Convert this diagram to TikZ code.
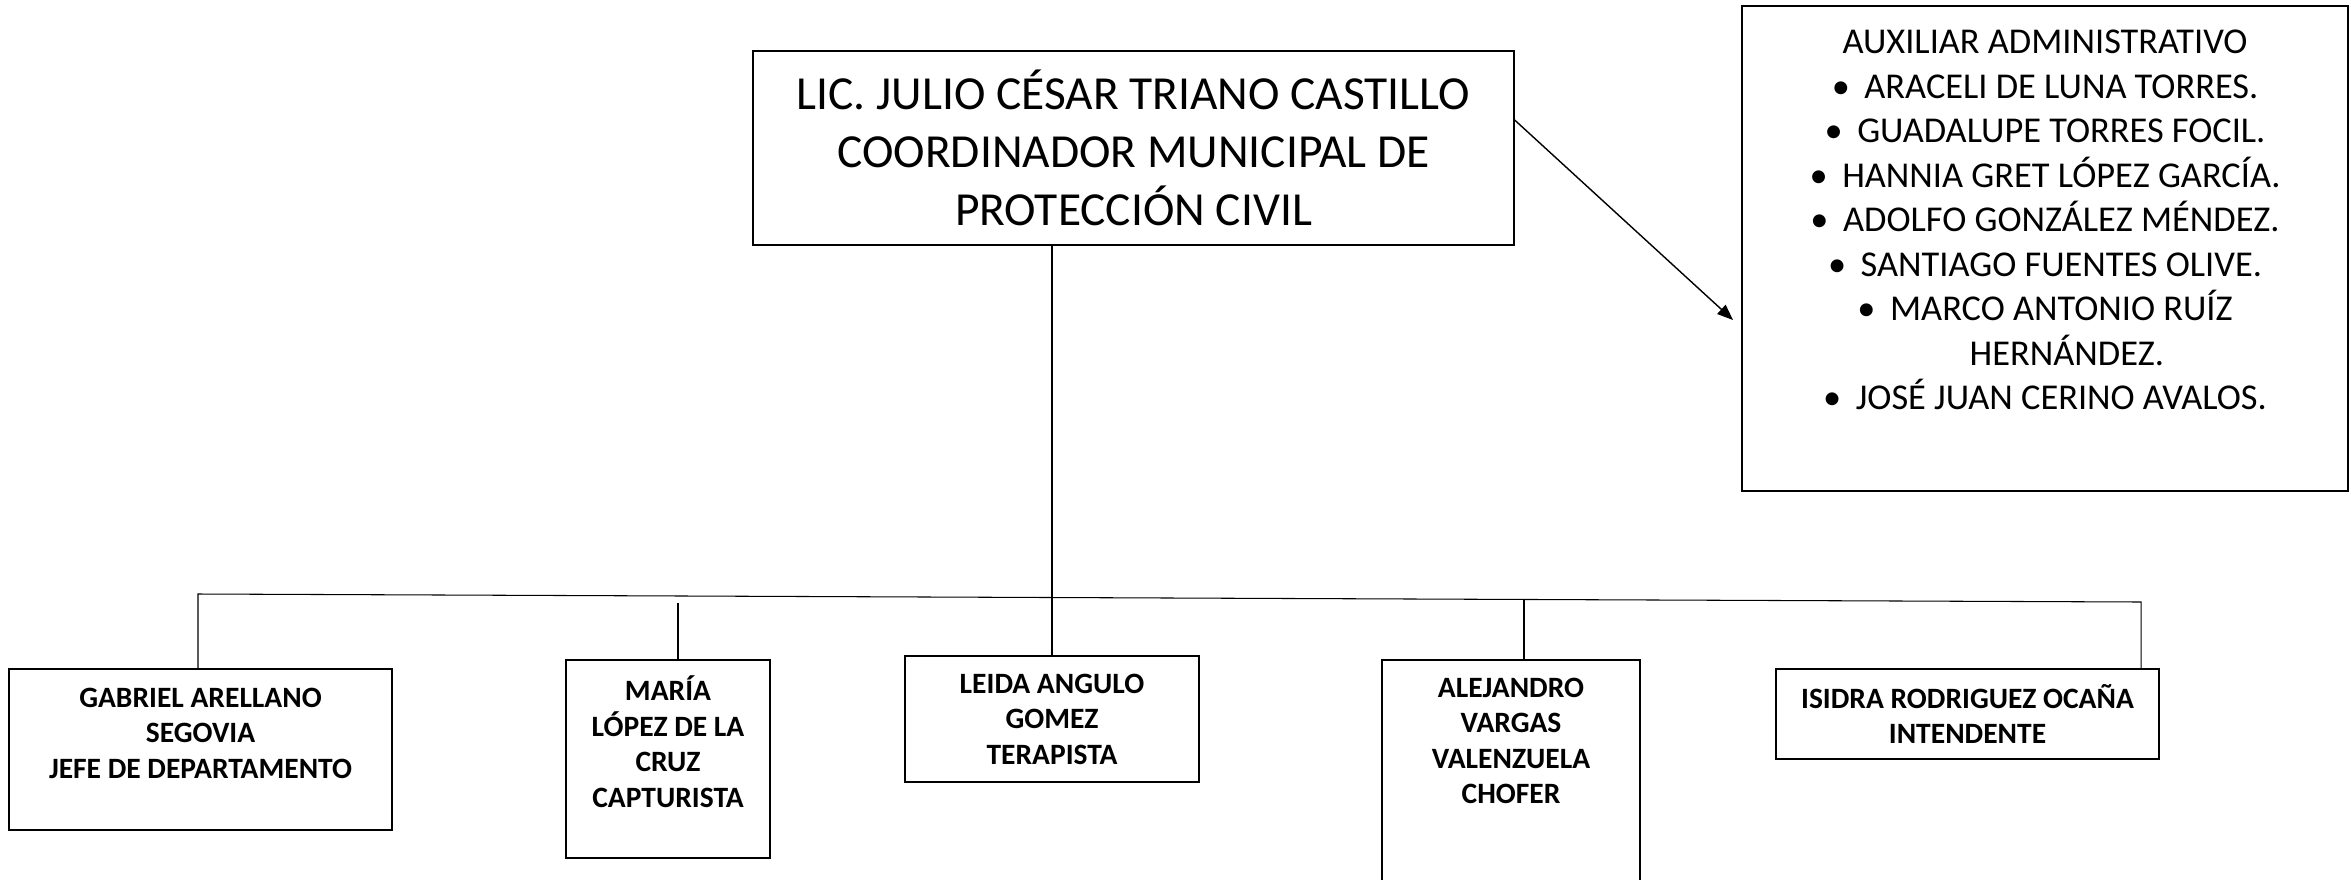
\documentclass[tikz,border=0pt]{standalone}
\usepackage{fontspec}
\setmainfont{Carlito}
\usetikzlibrary{arrows.meta}

\tikzset{
  box/.style={draw, line width=0.8pt, inner sep=0pt},
  boss/.style={align=center, font=\fontsize{27}{33}\selectfont},
  staff/.style={align=center, font=\fontsize{20.7}{25.3}\selectfont},
  puesto/.style={align=center, font=\bfseries\fontsize{16.8}{20.2}\selectfont},
  link/.style={line width=0.6pt},
  arr/.style={line width=0.8pt, -{Triangle[length=9pt,width=7pt]}},
}
\newcommand{\bul}{\textbullet\hspace{0.4em}}

\begin{document}
\begin{tikzpicture}[x=0.02cm, y=-0.02cm]
\useasboundingbox (0,0) rectangle (2351,879);

% coordinador
\node[box, boss, minimum width=15.22cm, minimum height=3.88cm] (main) at (1133.5,148)
  {LIC. JULIO CÉSAR TRIANO CASTILLO\\COORDINADOR MUNICIPAL DE\\PROTECCIÓN CIVIL};

% auxiliares
\node[box, minimum width=12.12cm, minimum height=9.7cm] (aux) at (2045,248.5) {};
\node[staff] (auxtxt) at (2045,220) {AUXILIAR ADMINISTRATIVO\\
  \bul ARACELI DE LUNA TORRES.\\
  \bul GUADALUPE TORRES FOCIL.\\
  \bul HANNIA GRET LÓPEZ GARCÍA.\\
  \bul ADOLFO GONZÁLEZ MÉNDEZ.\\
  \bul SANTIAGO FUENTES OLIVE.\\
  \bul MARCO ANTONIO RUÍZ\\
  \hspace{1.2em}HERNÁNDEZ.\\
  \bul JOSÉ JUAN CERINO AVALOS.};

% personal
\node[box, minimum width=7.66cm, minimum height=3.22cm] (gab) at (200.5,749.5) {};
\node[puesto] (gabtxt) at (200.5,733) {GABRIEL ARELLANO\\SEGOVIA\\JEFE DE DEPARTAMENTO};

\node[box, minimum width=4.08cm, minimum height=3.96cm] (mar) at (668,759) {};
\node[puesto] (martxt) at (668,741.5) {MARÍA\\LÓPEZ DE LA\\CRUZ\\CAPTURISTA};

\node[box, puesto, minimum width=5.88cm, minimum height=2.52cm] (lei) at (1052,719)
  {LEIDA ANGULO\\GOMEZ\\TERAPISTA};

\node[box, minimum width=5.16cm, minimum height=4.52cm] (ale) at (1511,773) {};
\node[puesto] (aletxt) at (1511,741) {ALEJANDRO\\VARGAS\\VALENZUELA\\CHOFER};

\node[box, puesto, minimum width=7.66cm, minimum height=1.8cm] (isi) at (1967.5,714)
  {ISIDRA RODRIGUEZ OCAÑA\\INTENDENTE};

% lineas
\coordinate (busL) at (198,594);
\coordinate (busR) at (2141,602);
\coordinate (dmar) at (678,603);
\coordinate (dale) at (1524,600);
\coordinate (tip) at (1733,320);

\draw[link] (main.south -| lei.north) -- (lei.north);
\draw[link] (busL |- gab.north) -- (busL) -- (busR) -- (busR |- isi.north);
\draw[link] (dmar) -- (dmar |- mar.north);
\draw[link] (dale) -- (dale |- ale.north);
\draw[arr] ([yshift=0.56cm]main.east) -- (tip);
\end{tikzpicture}
\end{document}
